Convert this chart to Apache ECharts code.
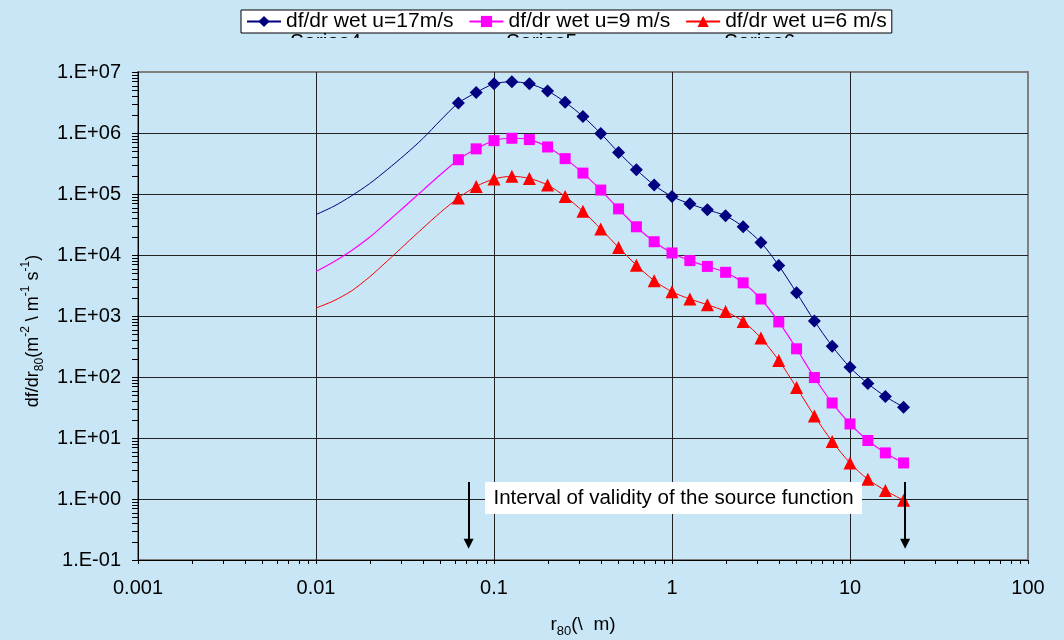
<!DOCTYPE html>
<html>
<head>
<meta charset="utf-8">
<script src="https://cdn.jsdelivr.net/npm/echarts@6/dist/echarts.min.js"></script>
<style>
  html, body { margin: 0; padding: 0; background: #C8E6F5; }
  #chart { width: 1064px; height: 640px; }
</style>
</head>
<body>
<div id="chart"></div>
<script>
// Droplet radius r80 (µm) for the marked points, and for the low-radius tail drawn without markers
const radii = [0.0631, 0.0794, 0.1, 0.126, 0.158, 0.2, 0.251, 0.316, 0.398, 0.501, 0.631, 0.794,
               1, 1.26, 1.58, 2, 2.51, 3.16, 3.98, 5.01, 6.31, 7.94, 10, 12.6, 15.8, 20];
const radiiLow = [0.01, 0.0126, 0.0158, 0.02, 0.0251, 0.0316, 0.0398, 0.0501];

// df/dr80 for wind speed 17 m/s
const wet17 = [3.1e6, 4.6e6, 6.4e6, 6.9e6, 6.4e6, 4.9e6, 3.2e6, 1.87e6, 9.8e5, 4.8e5, 2.5e5, 1.4e5,
               9.1e4, 6.9e4, 5.5e4, 4.4e4, 2.9e4, 1.6e4, 6.7e3, 2.4e3, 830, 320, 144, 78, 48, 32];
const wet17Low = [4.6e4, 6.3e4, 9.3e4, 1.48e5, 2.5e5, 4.4e5, 8.1e5, 1.62e6];

// df/dr80 for wind speed 9 m/s
const wet9 = [3.65e5, 5.5e5, 7.5e5, 8.2e5, 7.8e5, 5.9e5, 3.8e5, 2.2e5, 1.16e5, 5.7e4, 2.9e4, 1.65e4,
              1.08e4, 8.1e3, 6.5e3, 5.2e3, 3.5e3, 1.9e3, 800, 290, 98, 37.5, 17, 9.1, 5.7, 3.9];
const wet9Low = [5.37e3, 7.76e3, 1.175e4, 1.95e4, 3.47e4, 6.31e4, 1.148e5, 2.09e5];

// df/dr80 for wind speed 6 m/s
const wet6 = [8.6e4, 1.33e5, 1.76e5, 1.95e5, 1.8e5, 1.4e5, 9.1e4, 5.2e4, 2.67e4, 1.33e4, 6.8e3, 3.8e3,
              2.5e3, 1.9e3, 1.53e3, 1.19e3, 815, 435, 187, 67, 23, 8.8, 3.9, 2.1, 1.38, 0.95];
const wet6Low = [1.35e3, 1.78e3, 2.57e3, 4.37e3, 7.94e3, 1.48e4, 2.75e4, 5.01e4];

const seriesNames = ['df/dr wet u=17m/s', 'df/dr wet u=9 m/s', 'df/dr wet u=6 m/s'];
const tailNames = ['Series4', 'Series5', 'Series6'];
const xTickLabels = ['0.001', '0.01', '0.1', '1', '10', '100'];
const yTickLabels = ['1.E-01', '1.E+00', '1.E+01', '1.E+02', '1.E+03', '1.E+04', '1.E+05', '1.E+06', '1.E+07'];

// Validity interval of the source function (radius bounds) and arrow extent (df/dr)
const validity = [0.072, 20.4];
const arrowSpan = [1.9, 0.185];

const FONT = 'Liberation Sans, Arial, sans-serif';
const BG = '#C8E6F5';

function curve(low, main) {
  const tail = radiiLow.map((r, i) => ({ value: [r, low[i]], symbol: 'none' }));
  return tail.concat(radii.map((r, i) => [r, main[i]]));
}

// Minor tick values at 2..9 of each decade
const xMinor = [];
for (let e = -3; e < 2; e++) for (let m = 2; m <= 9; m++) xMinor.push(+(m * Math.pow(10, e)).toPrecision(3));
const yMinor = [];
for (let e = -1; e < 7; e++) for (let m = 2; m <= 9; m++) yMinor.push(+(m * Math.pow(10, e)).toPrecision(3));

const chart = echarts.init(document.getElementById('chart'), null, { renderer: 'canvas' });

const arrowLine = x => [
  { coord: [x, arrowSpan[0]], symbol: 'none' },
  { coord: [x, arrowSpan[1]], symbol: 'triangle', symbolSize: 10 }
];

chart.setOption({
  animation: false,
  backgroundColor: BG,
  textStyle: { fontFamily: FONT },
  grid: {
    left: 138, right: 36, top: 72, bottom: 80,
    show: true, borderColor: '#808080', borderWidth: 2, backgroundColor: 'transparent'
  },
  legend: {
    data: seriesNames,
    left: 241, top: 10,
    padding: [1, 5, 1, 5],
    itemGap: 15, itemWidth: 34, itemHeight: 14,
    backgroundColor: '#ffffff', borderColor: '#000', borderWidth: 1, borderRadius: 0,
    textStyle: { fontSize: 21, color: '#000', fontFamily: FONT }
  },
  xAxis: {
    type: 'log', logBase: 10, min: 0.001, max: 100, splitNumber: 5,
    axisLine: { show: true, onZero: false, lineStyle: { color: '#000', width: 1 } },
    axisTick: { show: true, length: 4, lineStyle: { color: '#000' } },
    axisLabel: {
      fontSize: 20, color: '#000', margin: 18, fontFamily: FONT,
      formatter: v => xTickLabels[Math.round(Math.log10(v)) + 3]
    },
    splitLine: { show: true, showMinLine: false, showMaxLine: false, lineStyle: { color: '#222', width: 1 } }
  },
  yAxis: {
    type: 'log', logBase: 10, min: 0.1, max: 1e7, splitNumber: 8,
    axisLine: { show: true, onZero: false, lineStyle: { color: '#000', width: 1 } },
    axisTick: { show: true, length: 6, lineStyle: { color: '#000' } },
    axisLabel: {
      fontSize: 20, color: '#000', margin: 17, fontFamily: FONT,
      formatter: v => yTickLabels[Math.round(Math.log10(v)) + 1]
    },
    splitLine: { show: true, showMinLine: false, showMaxLine: false, lineStyle: { color: '#222', width: 1 } }
  },
  series: [
    {
      name: seriesNames[0], type: 'line', smooth: 0.3,
      data: curve(wet17Low, wet17),
      symbol: 'diamond', symbolSize: 13, showAllSymbol: true,
      lineStyle: { color: '#000080', width: 1 },
      itemStyle: { color: '#000080' }
    },
    {
      name: seriesNames[1], type: 'line', smooth: 0.3,
      data: curve(wet9Low, wet9),
      symbol: 'rect', symbolSize: 11, showAllSymbol: true,
      lineStyle: { color: '#FF00FF', width: 1.2 },
      itemStyle: { color: '#FF00FF' }
    },
    {
      name: seriesNames[2], type: 'line', smooth: 0.3,
      data: curve(wet6Low, wet6),
      symbol: 'triangle', symbolSize: 13, showAllSymbol: true,
      lineStyle: { color: '#FF0000', width: 1 },
      itemStyle: { color: '#FF0000' },
      markLine: {
        silent: true, animation: false,
        symbol: ['none', 'triangle'], symbolSize: 10,
        label: { show: false },
        lineStyle: { color: '#000', width: 2, type: 'solid' },
        emphasis: { disabled: true },
        data: [arrowLine(validity[0]), arrowLine(validity[1])]
      }
    },
    {
      name: 'xMinorTicks', type: 'custom', silent: true, clip: false, z: 3,
      data: xMinor.map(v => [v, 0.1]),
      renderItem(params, api) {
        const p = api.coord([api.value(0), api.value(1)]);
        const x = Math.round(p[0]) + 0.5;
        return { type: 'line', shape: { x1: x, y1: p[1], x2: x, y2: p[1] + 4 }, style: { stroke: '#000', lineWidth: 1 } };
      }
    },
    {
      name: 'yMinorTicks', type: 'custom', silent: true, clip: false, z: 3,
      data: yMinor.map(v => [0.001, v]),
      renderItem(params, api) {
        const p = api.coord([api.value(0), api.value(1)]);
        const y = Math.round(p[1]) + 0.5;
        return { type: 'line', shape: { x1: p[0] - 6, y1: y, x2: p[0], y2: y }, style: { stroke: '#000', lineWidth: 1 } };
      }
    }
  ],
  graphic: [
    // tail series names sitting just under the legend box
    { type: 'text', z: 1, left: 290, top: 32, style: { text: tailNames[0], fontSize: 21, fontFamily: FONT, fill: '#000' } },
    { type: 'text', z: 1, left: 506, top: 32, style: { text: tailNames[1], fontSize: 21, fontFamily: FONT, fill: '#000' } },
    { type: 'text', z: 1, left: 724, top: 32, style: { text: tailNames[2], fontSize: 21, fontFamily: FONT, fill: '#000' } },
    { type: 'rect', z: 2, left: 230, top: 38, shape: { width: 680, height: 30 }, style: { fill: BG } },
    // annotation box
    { type: 'rect', z: 10, left: 485, top: 482, shape: { width: 377, height: 32 }, style: { fill: '#ffffff' } },
    {
      type: 'text', z: 11, x: 673.5, y: 498,
      style: { text: 'Interval of validity of the source function', fontSize: 20.5, fontFamily: FONT, fill: '#000', align: 'center', verticalAlign: 'middle' }
    },
    // axis titles
    {
      type: 'text', z: 11, x: 33, y: 331, rotation: Math.PI / 2,
      style: {
        text: '{t|df/dr}{sub|80}{t|(m}{sup|-2}{t| \\ m}{sup|-1}{t| s}{sup|-1}{t|)}',
        align: 'center', verticalAlign: 'middle', fill: '#000',
        rich: {
          t: { fontSize: 18, fontFamily: FONT, lineHeight: 26, fill: '#000' },
          sub: { fontSize: 12, fontFamily: FONT, verticalAlign: 'bottom', lineHeight: 14, fill: '#000' },
          sup: { fontSize: 12, fontFamily: FONT, verticalAlign: 'top', lineHeight: 14, fill: '#000' }
        }
      }
    },
    {
      type: 'text', z: 11, x: 583, y: 625,
      style: {
        text: '{t|r}{sub|80}{t|(\\  m)}',
        align: 'center', verticalAlign: 'middle', fill: '#000',
        rich: {
          t: { fontSize: 19, fontFamily: FONT, lineHeight: 26, fill: '#000' },
          sub: { fontSize: 13, fontFamily: FONT, verticalAlign: 'bottom', lineHeight: 14, fill: '#000' }
        }
      }
    }
  ]
});
</script>
</body>
</html>
